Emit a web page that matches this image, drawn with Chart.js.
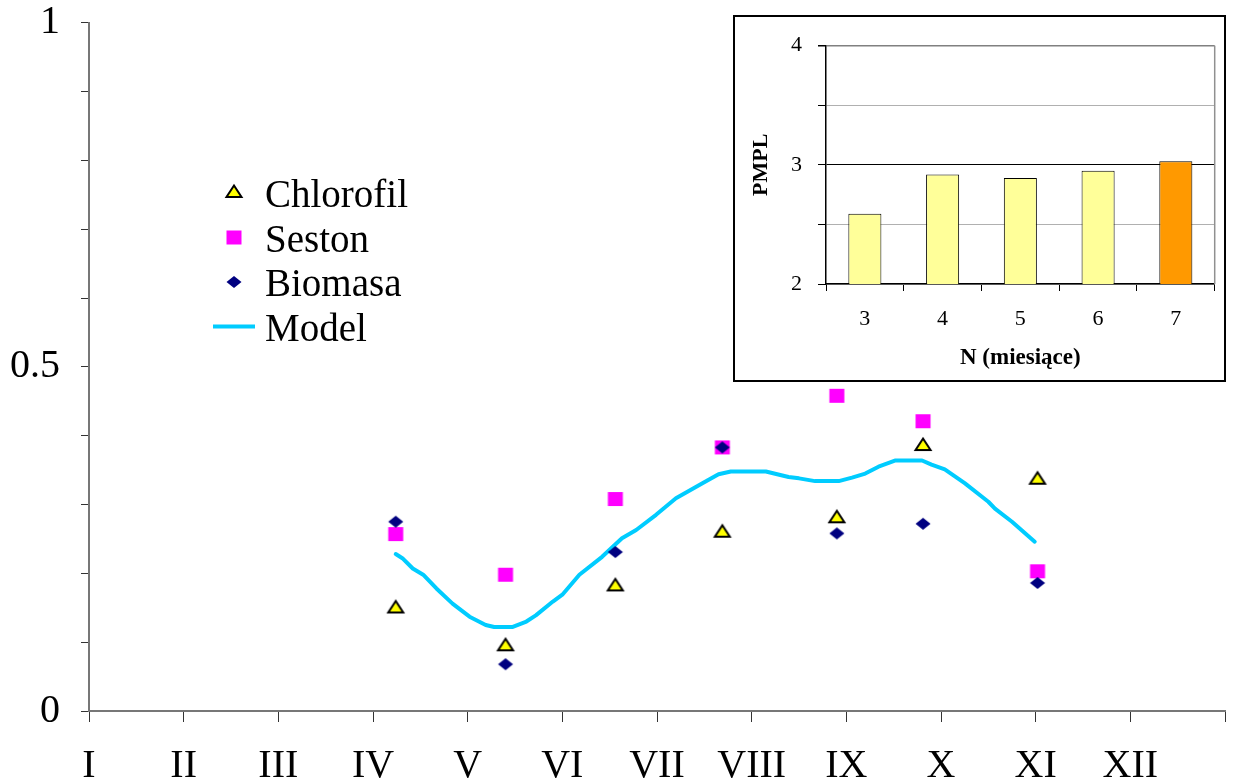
<!DOCTYPE html>
<html>
<head>
<meta charset="utf-8">
<script src="https://cdn.jsdelivr.net/npm/chart.js@4.4.1/dist/chart.umd.min.js"></script>
<style>
  html, body { margin: 0; padding: 0; background: #fff; }
  #wrap { position: relative; width: 1234px; height: 778px; overflow: hidden; }
  #main { position: absolute; left: 0; top: 0; }
  #insetBox { position: absolute; left: 733px; top: 15px; width: 489px; height: 363px;
              border: 2px solid #000; background: #fff; }
  #inset { display: block; }
</style>
</head>
<body>
<div id="wrap">
  <canvas id="main" width="1234" height="778"></canvas>
  <div id="insetBox"><canvas id="inset" width="489" height="363"></canvas></div>
</div>
<script>
// ---- data ----
const monthLabels = ['I', 'II', 'III', 'IV', 'V', 'VI', 'VII', 'VIII', 'IX', 'X', 'XI', 'XII'];
const labeledValues = [0, 0.5, 1];
const labeledValueText = ['0', '0.5', '1'];

const sampleMonths = [3.24, 4.40, 5.56, 6.69, 7.90, 8.81, 10.02];
const chlorofil = [0.149, 0.094, 0.181, 0.259, 0.280, 0.385, 0.336];
const seston    = [0.257, 0.198, 0.308, 0.383, 0.458, 0.421, 0.203];
const biomasa   = [0.275, 0.068, 0.231, 0.383, 0.258, 0.272, 0.186];

const modelMonths = [3.24, 3.31, 3.42, 3.53, 3.67, 3.84, 4.02, 4.19, 4.28, 4.47,
                     4.62, 4.72, 4.90, 5.00, 5.18, 5.42, 5.63, 5.78, 5.99, 6.20,
                     6.48, 6.65, 6.78, 7.15, 7.39, 7.50, 7.67, 7.92, 8.06, 8.20,
                     8.34, 8.52, 8.80, 8.90, 9.04, 9.25, 9.50, 9.57, 9.75, 9.99];
const modelValues = [0.228, 0.222, 0.207, 0.198, 0.178, 0.156, 0.137, 0.125, 0.122, 0.122,
                     0.130, 0.139, 0.159, 0.169, 0.198, 0.224, 0.251, 0.263, 0.285, 0.309,
                     0.331, 0.344, 0.348, 0.348, 0.340, 0.338, 0.334, 0.334, 0.339, 0.345,
                     0.355, 0.364, 0.364, 0.358, 0.351, 0.331, 0.304, 0.294, 0.275, 0.246];

const windowLengths = ['3', '4', '5', '6', '7'];
const pmpl = [2.59, 2.92, 2.89, 2.95, 3.03];

// ---- marker glyphs ----
function makeMarker(kind) {
  const c = document.createElement('canvas');
  c.width = 24; c.height = 24;
  const g = c.getContext('2d');
  const m = 12;
  g.beginPath();
  if (kind === 'triangle') {
    g.moveTo(m, m - 7.5);
    g.lineTo(m + 7.5, m + 4);
    g.lineTo(m - 7.5, m + 4);
    g.closePath();
    g.fillStyle = '#FFFF00';
    g.fill();
    g.lineWidth = 2;
    g.strokeStyle = '#000';
    g.stroke();
  } else if (kind === 'square') {
    g.rect(m - 7.5, m - 7, 15, 14);
    g.fillStyle = '#FF00FF';
    g.fill();
  } else {
    g.moveTo(m, m - 6);
    g.lineTo(m + 7.5, m);
    g.lineTo(m, m + 6);
    g.lineTo(m - 7.5, m);
    g.closePath();
    g.fillStyle = '#000080';
    g.fill();
  }
  return c;
}
const triMarker = makeMarker('triangle');
const sqMarker = makeMarker('square');
const diaMarker = makeMarker('diamond');

const toPoints = (xs, ys) => xs.map((x, i) => ({ x: x, y: ys[i] }));
const serif = 'Liberation Serif';

// keep tick label overhang from shrinking the plot frame
function fixBox(size, dim) {
  return s => {
    s[dim] = size;
    s.paddingTop = 0; s.paddingBottom = 0; s.paddingLeft = 0; s.paddingRight = 0;
  };
}

// legend drawn inside the plot area
const insideLegend = {
  id: 'insideLegend',
  afterDatasetsDraw(chart) {
    const ctx = chart.ctx;
    const x0 = 234, y0 = 193, row = 44.5;
    ctx.save();
    ctx.font = '39px "' + serif + '"';
    ctx.fillStyle = '#000';
    ctx.textBaseline = 'alphabetic';
    chart.data.datasets.forEach((ds, i) => {
      const y = y0 + i * row;
      if (ds.showLine) {
        ctx.strokeStyle = ds.borderColor;
        ctx.lineWidth = ds.borderWidth;
        ctx.beginPath();
        ctx.moveTo(x0 - 21, y);
        ctx.lineTo(x0 + 21, y);
        ctx.stroke();
      } else {
        const s = ds.pointStyle;
        ctx.drawImage(s, x0 - s.width / 2, y - s.height / 2);
      }
      ctx.fillText(ds.label, 265, y + 14);
    });
    ctx.restore();
  }
};

new Chart(document.getElementById('main'), {
  type: 'scatter',
  data: {
    datasets: [
      { label: 'Chlorofil', data: toPoints(sampleMonths, chlorofil), pointStyle: triMarker, pointRadius: 8, order: 2 },
      { label: 'Seston', data: toPoints(sampleMonths, seston), pointStyle: sqMarker, pointRadius: 8, order: 1 },
      { label: 'Biomasa', data: toPoints(sampleMonths, biomasa), pointStyle: diaMarker, pointRadius: 8, order: 0 },
      { label: 'Model', data: toPoints(modelMonths, modelValues), showLine: true, pointRadius: 0,
        borderColor: '#00CCFF', borderWidth: 4, tension: 0, order: 3,
        borderCapStyle: 'round', borderJoinStyle: 'round' }
    ]
  },
  options: {
    responsive: false,
    animation: false,
    devicePixelRatio: 1,
    layout: { padding: { top: 22.7, right: 7, left: 0, bottom: 0 } },
    plugins: { legend: { display: false }, tooltip: { enabled: false } },
    scales: {
      x: {
        type: 'linear', min: 0, max: 12,
        ticks: {
          stepSize: 1, autoSkip: false, maxRotation: 0, padding: 24,
          color: '#000', font: { family: serif, size: 40, lineHeight: 1 },
          callback: v => monthLabels[v] !== undefined ? monthLabels[v] : ''
        },
        grid: { drawOnChartArea: false, tickLength: 11, color: '#333', lineWidth: 1 },
        border: { color: '#777', width: 2 },
        afterFit: fixBox(67, 'height')
      },
      y: {
        min: 0, max: 1,
        ticks: {
          stepSize: 0.1, autoSkip: false, padding: 21,
          color: '#000', font: { family: serif, size: 40, lineHeight: 1 },
          callback: v => {
            const k = labeledValues.findIndex(t => Math.abs(t - v) < 1e-9);
            return k >= 0 ? labeledValueText[k] : '';
          }
        },
        grid: { drawOnChartArea: false, tickLength: 8, color: '#333', lineWidth: 1 },
        border: { color: '#777', width: 2 },
        afterFit: fixBox(89, 'width')
      }
    }
  },
  plugins: [insideLegend]
});

// frame on the right side of the small plot area
const insetFrame = {
  id: 'insetFrame',
  afterDraw(chart) {
    const a = chart.chartArea, ctx = chart.ctx;
    ctx.save();
    ctx.strokeStyle = '#909090';
    ctx.lineWidth = 1.5;
    ctx.beginPath();
    ctx.moveTo(a.right, a.top);
    ctx.lineTo(a.right, a.bottom);
    ctx.stroke();
    ctx.restore();
  }
};

const best = pmpl.indexOf(Math.max(...pmpl));
new Chart(document.getElementById('inset'), {
  type: 'bar',
  data: {
    labels: windowLengths,
    datasets: [{
      data: pmpl,
      backgroundColor: pmpl.map((v, i) => i === best ? '#FF9900' : '#FFFF99'),
      borderColor: '#000', borderWidth: 1,
      categoryPercentage: 1, barPercentage: 0.425
    }]
  },
  options: {
    responsive: false,
    animation: false,
    devicePixelRatio: 1,
    layout: { padding: { top: 28.7, right: 9.3, left: 0, bottom: 0 } },
    plugins: { legend: { display: false }, tooltip: { enabled: false } },
    scales: {
      x: {
        ticks: { color: '#000', font: { family: serif, size: 22 }, padding: 15 },
        grid: { offset: true, drawOnChartArea: false, tickLength: 7, color: '#000' },
        border: { color: '#000', width: 1.5 },
        title: { display: true, text: 'N (miesiące)', color: '#000',
                 font: { family: serif, size: 23, weight: 'bold' }, padding: { top: 0, bottom: 8 } },
        afterFit: fixBox(96, 'height')
      },
      y: {
        min: 2, max: 4,
        ticks: {
          stepSize: 0.5, autoSkip: false, padding: 16, color: '#000',
          font: { family: serif, size: 22 },
          callback: v => Number.isInteger(v) ? String(v) : ''
        },
        grid: {
          color: c => c.tick.value === 3 ? '#000' : (c.tick.value === 4 ? '#808080' : '#b0b0b0'),
          lineWidth: c => c.tick.value === 4 ? 1.5 : 1,
          tickColor: '#000', tickLength: 8
        },
        border: { color: '#000', width: 1.5 },
        title: { display: true, text: 'PMPL', color: '#000',
                 font: { family: serif, size: 22, weight: 'bold' }, padding: { top: 13, bottom: 0 } },
        afterFit: fixBox(91, 'width')
      }
    }
  },
  plugins: [insetFrame]
});
</script>
</body>
</html>
